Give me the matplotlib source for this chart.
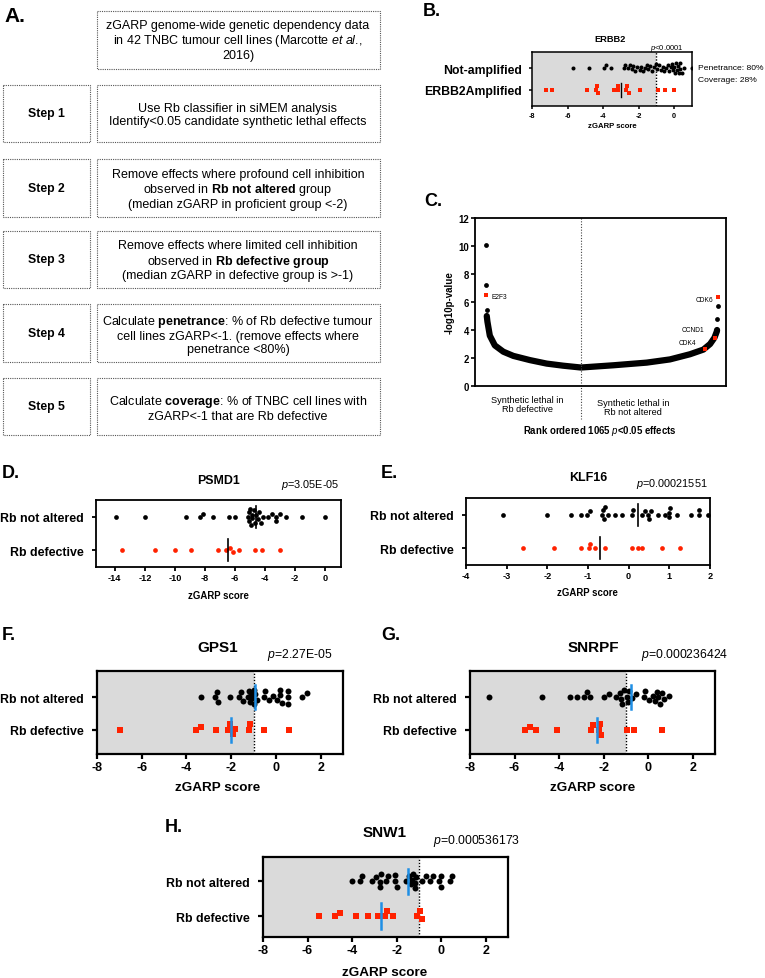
import numpy as np
import matplotlib
matplotlib.use("Agg")
import matplotlib.pyplot as plt
from matplotlib.patches import Rectangle

W, H = 765, 979

plt.rcParams["font.family"] = ["Liberation Sans", "DejaVu Sans"]
plt.rcParams["mathtext.fontset"] = "custom"
plt.rcParams["mathtext.rm"] = "Liberation Sans"
plt.rcParams["mathtext.it"] = "Liberation Sans:italic"
plt.rcParams["mathtext.bf"] = "Liberation Sans:bold"

RED = "#ff2200"
BLUE = "#1f8fe5"
GREY = "#dadada"

# ---- A: workflow
intro_text = ("zGARP genome-wide genetic dependency data\n"
              "in 42 TNBC tumour cell lines (Marcotte $\\it{et\\ al}$.,\n2016)")
step_names = ["Step 1", "Step 2", "Step 3", "Step 4", "Step 5"]
step_texts = [
    "Use Rb classifier in siMEM analysis\nIdentify<0.05 candidate synthetic lethal effects",
    "Remove effects where profound cell inhibition\nobserved in $\\bf{Rb\\ not\\ altered}$ group\n"
    "(median zGARP in proficient group <-2)",
    "Remove effects where limited cell inhibition\nobserved in $\\bf{Rb\\ defective\\ group}$\n"
    "(median zGARP in defective group is >-1)",
    "Calculate $\\bf{penetrance}$: % of Rb defective tumour\ncell lines zGARP<-1. (remove effects where\n"
    "penetrance <80%)",
    "Calculate $\\bf{coverage}$: % of TNBC cell lines with\nzGARP<-1 that are Rb defective",
]

# ---- B: ERBB2
erbb2_not_amp = [-5.70, -4.78, -3.97, -3.82, -3.56, -2.85, -2.75, -2.6, -2.5, -2.4, -2.3,
                 -2.2, -2.1, -1.95, -1.85, -1.75, -1.65, -1.55, -1.45, -1.35, -1.25, -1.15,
                 -1.05, -0.95, -0.85, -0.75, -0.65, -0.55, -0.45, -0.35, -0.3, -0.2, -0.1,
                 -0.05, 0.0, 0.05, 0.1, 0.15, 0.2, 0.25, 0.3, 0.35, 0.45, 0.55, 0.99]
erbb2_amp = [-7.21, -6.88, -4.91, -4.39, -4.35, -4.29, -3.41, -3.19, -3.19, -2.70, -2.63,
             -2.57, -1.95, -0.94, -0.51, 0.0]
erbb2_amp_median = -2.98

# ---- C: ranked effects
c_curve_rank = [5, 8, 19, 42, 81, 127, 203, 280, 356, 437, 586, 739, 846, 938, 999, 1030, 1050, 1061, 1062]
c_curve_logp = [5.0, 4.6, 3.6, 2.9, 2.45, 2.15, 1.85, 1.6, 1.45, 1.32, 1.48, 1.67, 1.9, 2.27, 2.6, 3.0, 3.45, 3.9, 4.0]
c_single_rank = [1, 2, 4, 1063, 1064]
c_single_logp = [10.1, 7.2, 5.4, 4.8, 5.7]
c_genes = ["E2F3", "CDK6", "CCND1", "CDK4"]
c_gene_rank = [3, 1065, 1053, 1007]
c_gene_logp = [6.5, 6.35, 3.42, 2.63]

# ---- D: PSMD1
psmd1_not = [-13.95, -11.98, -9.27, -8.32, -8.10, -7.48, -6.39, -6.01, -5.15, -5.1, -5.05,
             -5.0, -4.95, -4.9, -4.85, -4.75, -4.7, -4.6, -4.5, -4.4, -4.3, -4.15, -3.8,
             -3.55, -3.3, -3.3, -3.04, -2.6, -1.55, 0.0]
psmd1_def = [-13.51, -11.32, -10.0, -8.94, -7.14, -6.63, -6.35, -6.15, -5.72, -4.70, -4.22, -3.04]
psmd1_med = [-4.6, -6.48]

# ---- E: KLF16
klf16_not = [-3.10, -2.02, -1.42, -1.16, -1.02, -0.95, -0.66, -0.63, -0.61, -0.57, -0.50,
             -0.34, -0.16, 0.07, 0.11, 0.34, 0.40, 0.51, 0.47, 0.54, 0.73, 0.90, 1.0, 1.0,
             1.02, 1.18, 1.53, 1.73, 1.73, 1.96]
klf16_def = [-2.61, -1.83, -1.17, -0.97, -0.94, -0.84, -0.57, 0.07, 0.22, 0.34, 0.82, 1.26]
klf16_med = [0.22, -0.71]

# ---- F: GPS1
gps1_not = [-3.37, -2.57, -2.72, -2.64, -2.07, -1.64, -1.56, -1.47, -1.26, -1.22, -1.14,
            -1.11, -1.05, -1.0, -0.96, -0.92, -0.84, -0.54, -0.47, -0.32, -0.13, 0.05, 0.17,
            0.20, 0.28, 0.53, 0.53, 0.53, 1.18, 1.37]
gps1_def = [-6.98, -3.57, -3.34, -2.67, -2.13, -2.07, -1.94, -1.82, -1.22, -1.17, -0.52, 0.59]
gps1_med = [-0.92, -2.01]

# ---- G: SNRPF
snrpf_not = [-7.13, -4.75, -3.51, -3.21, -2.87, -2.76, -2.61, -1.97, -1.76, -1.46, -1.26,
             -1.2, -1.16, -1.07, -0.96, -0.9, -0.84, -0.74, -0.56, -0.17, -0.14, 0.04, 0.20,
             0.31, 0.38, 0.46, 0.53, 0.64, 0.71, 0.95]
snrpf_def = [-5.53, -5.32, -5.05, -4.08, -2.58, -2.46, -2.21, -2.16, -2.10, -0.93, -0.63, 0.62]
snrpf_med = [-0.78, -2.31]

# ---- H: SNW1
snw1_not = [-3.99, -3.66, -3.54, -3.09, -2.91, -2.76, -2.73, -2.72, -2.46, -2.39, -2.06,
            -2.06, -1.98, -1.56, -1.44, -1.34, -1.3, -1.26, -1.19, -1.16, -1.11, -0.84,
            -0.69, -0.51, -0.37, -0.10, -0.02, -0.02, 0.38, 0.50]
snw1_def = [-5.5, -4.75, -4.53, -3.81, -3.28, -2.84, -2.52, -2.42, -2.16, -1.07, -0.93, -0.84]
snw1_med = [-1.47, -2.69]

rb_labels = ["Rb not altered", "Rb defective"]

fig = plt.figure(figsize=(W / 100, H / 100), dpi=100)
fig.patch.set_facecolor("white")


def add_ax(x0, y0, x1, y1):
    return fig.add_axes([x0 / W, 1 - y1 / H, (x1 - x0) / W, (y1 - y0) / H])


def ftext(x, y, s, **kw):
    kw.setdefault("va", "center")
    fig.text(x / W, 1 - y / H, s, **kw)


def swarm_offsets(vals, scale, d, maxoff):
    # beeswarm layout in pixel units, vertical spread capped at maxoff
    xs = np.asarray(vals, float) * scale
    offs = np.zeros(len(xs))
    placed = []
    for i in np.argsort(xs, kind="stable"):
        x = xs[i]
        cands = [0.0]
        for a, b in placed:
            dx = x - a
            if abs(dx) < d:
                dy = np.sqrt(d * d - dx * dx)
                cands += [b + dy, b - dy]
        cands = sorted((c for c in cands if abs(c) <= maxoff + 1e-9), key=abs)
        chosen = None
        for c in cands:
            if all((x - a) ** 2 + (c - b) ** 2 >= d * d - 1e-6 for a, b in placed):
                chosen = c
                break
        if chosen is None:
            grid = np.linspace(-maxoff, maxoff, 11)
            chosen = max(grid, key=lambda c: min((x - a) ** 2 + (c - b) ** 2 for a, b in placed))
        offs[i] = chosen
        placed.append((x, chosen))
    return offs


# ---------------- panel A
ax_a = fig.add_axes([0, 0, 1, 1])
ax_a.set_xlim(0, W)
ax_a.set_ylim(H, 0)
ax_a.axis("off")
box_style = dict(fill=False, ec="#555555", lw=0.8, ls=(0, (1, 1)))
ax_a.add_patch(Rectangle((97, 12), 283, 58, **box_style))
ax_a.text(238, 41, intro_text, ha="center", va="center", fontsize=9.0, linespacing=1.1)
step_y = [(86, 143), (160, 218), (232, 289), (305, 363), (379, 436)]
for name, txt, (y0, y1) in zip(step_names, step_texts, step_y):
    ax_a.add_patch(Rectangle((3, y0), 87, y1 - y0, **box_style))
    ax_a.add_patch(Rectangle((97, y0), 283, y1 - y0, **box_style))
    ax_a.text(46, (y0 + y1) / 2, name, ha="center", va="center", fontsize=8.8, fontweight="bold")
    ax_a.text(238, (y0 + y1) / 2 + 1, txt, ha="center", va="center", fontsize=9.0, linespacing=1.1)


# ---------------- strip plots
def strip_panel(box, xlim, ylim, xticks, groups, labels, style):
    x0, y0, x1, y1 = box
    ax = add_ax(*box)
    sx = (x1 - x0) / (xlim[1] - xlim[0])
    sy = (y1 - y0) / (ylim[1] - ylim[0])
    if style["shade"]:
        ax.axvspan(xlim[0], -1, color=GREY, lw=0, zorder=0)
        ax.axvline(-1, ls=(0, (1, 1.2)), color="k", lw=1.0, zorder=1)
    for vals, row, color, marker, med in groups:
        off = swarm_offsets(vals, sx, style["d"], style["maxoff"])
        ax.scatter(vals, row + off / sy, s=style["ms"] ** 2, marker=marker, color=color,
                   lw=0, zorder=3)
        if med is not None:
            ax.plot([med, med], [row - style["mh"], row + style["mh"]],
                    color=style["mc"], lw=style["mlw"], zorder=4)
    ax.set_xlim(*xlim)
    ax.set_ylim(*ylim)
    ax.set_xticks(xticks)
    ax.set_xticklabels([f"{t:g}" for t in xticks], fontsize=style["tfs"], fontweight="bold")
    ax.set_yticks([1, 0])
    ax.set_yticklabels(labels, fontsize=style["lfs"], fontweight="bold")
    ax.tick_params(axis="x", length=style["tl"], width=style["lw"], pad=1.5)
    ax.tick_params(axis="y", length=style["tl"], width=style["lw"], pad=style["ypad"])
    for sp in ax.spines.values():
        sp.set_linewidth(style["lw"])
    ax.set_facecolor("white")
    return ax


small = dict(shade=False, d=4.6, maxoff=8, ms=3.4, mh=0.33, mc="k", mlw=1.2, tfs=6.6,
             lfs=8.9, tl=3, lw=1.3, ypad=6)
big = dict(shade=True, d=5.8, maxoff=7, ms=4.3, mh=0.36, mc=BLUE, mlw=1.8, tfs=9,
           lfs=8.9, tl=3.5, lw=1.6, ypad=6)

# B
bstyle = dict(shade=True, d=3.8, maxoff=5, ms=2.9, mh=0.34, mc="k", mlw=1.0, tfs=5.2,
              lfs=8.8, tl=2.5, lw=1.1, ypad=4.5)
strip_panel((532, 53, 692, 107), (-8, 1), (-0.73, 1.73), [-8, -6, -4, -2, 0],
            [(erbb2_not_amp, 1, "k", "o", None), (erbb2_amp, 0, RED, "s", erbb2_amp_median)],
            ["Not-amplified", "ERBB2Amplified"], bstyle)
ftext(610, 39, "ERBB2", ha="center", fontsize=6.7, fontweight="bold")
ftext(667, 48, "$p$<0.0001", ha="center", fontsize=5.5)
ftext(612, 127, "zGARP score", ha="center", fontsize=5.6, fontweight="bold")
ftext(698, 69, "Penetrance: 80%", ha="left", fontsize=6.1)
ftext(698, 80, "Coverage: 28%", ha="left", fontsize=6.1)

# C
ax_c = add_ax(475, 219, 726, 387)
ax_c.plot(c_curve_rank, c_curve_logp, color="k", lw=4.5, solid_capstyle="round", zorder=2)
ax_c.scatter(c_single_rank, c_single_logp, s=12, color="k", lw=0, zorder=3)
ax_c.scatter(c_gene_rank, c_gene_logp, s=11, marker="s", color=RED, lw=0, zorder=4)
ax_c.set_xlim(-49, 1103)
ax_c.set_ylim(0, 12)
ax_c.set_xticks([])
ax_c.set_yticks(range(0, 13, 2))
ax_c.set_yticklabels([str(v) for v in range(0, 13, 2)], fontsize=6.9, fontweight="bold")
ax_c.tick_params(axis="y", length=3, width=1.2, pad=1.5)
for sp in ax_c.spines.values():
    sp.set_linewidth(1.3)
ax_c.plot([437, 437], [12, -2.36], ls=(0, (1, 1.5)), color="#444444", lw=0.8, clip_on=False)
ax_c.annotate(c_genes[0], (c_gene_rank[0], c_gene_logp[0]), xytext=(4, -1),
              textcoords="offset points", fontsize=4.8, va="center", ha="left")
ax_c.annotate(c_genes[1], (c_gene_rank[1], c_gene_logp[1]), xytext=(-3, -2),
              textcoords="offset points", fontsize=4.8, va="center", ha="right")
ax_c.annotate(c_genes[2], (c_gene_rank[2], c_gene_logp[2]), xytext=(-8, 6),
              textcoords="offset points", fontsize=4.8, va="center", ha="right")
ax_c.annotate(c_genes[3], (c_gene_rank[3], c_gene_logp[3]), xytext=(-6, 5),
              textcoords="offset points", fontsize=4.8, va="center", ha="right")
ftext(527, 405, "Synthetic lethal in\nRb defective", ha="center", fontsize=6.6, linespacing=1.1)
ftext(633, 408, "Synthetic lethal in\nRb not altered", ha="center", fontsize=6.6, linespacing=1.1)
ftext(600, 431, "Rank ordered 1065 $p$<0.05 effects", ha="center", fontsize=6.9, fontweight="bold")
ftext(450, 303, "-log10p-value", ha="center", rotation=90, fontsize=7, fontweight="bold")

# D
strip_panel((96, 501, 341, 568), (-15.25, 1.05), (-0.5, 1.5), list(range(-14, 1, 2)),
            [(psmd1_not, 1, "k", "o", psmd1_med[0]), (psmd1_def, 0, RED, "o", psmd1_med[1])],
            rb_labels, small)
ftext(218, 481, "PSMD1", ha="center", fontsize=8.9, fontweight="bold")
ftext(339, 485, "$p$=3.05E-05", ha="right", fontsize=7.8)
ftext(218, 596, "zGARP score", ha="center", fontsize=6.9, fontweight="bold")

# E
strip_panel((466, 499, 710, 566), (-4, 2), (-0.5, 1.5), list(range(-4, 3)),
            [(klf16_not, 1, "k", "o", klf16_med[0]), (klf16_def, 0, RED, "o", klf16_med[1])],
            rb_labels, small)
ftext(588, 478, "KLF16", ha="center", fontsize=9, fontweight="bold")
ftext(708, 484, "$p$=0.00021551", ha="right", fontsize=7.8)
ftext(587, 593, "zGARP score", ha="center", fontsize=6.9, fontweight="bold")

# F, G
for box, title, ptxt, nv, dv, med, tx, px in [
    ((97, 672, 343, 755), "GPS1", "$p$=2.27E-05", gps1_not, gps1_def, gps1_med, 218, 332),
    ((470, 672, 715, 755), "SNRPF", "$p$=0.000236424", snrpf_not, snrpf_def, snrpf_med, 593, 728),
]:
    strip_panel(box, (-8, 3), (-0.73, 1.79), [-8, -6, -4, -2, 0, 2],
                [(nv, 1, "k", "o", med[0]), (dv, 0, RED, "s", med[1])], rb_labels, big)
    ftext(tx, 648, title, ha="center", fontsize=11, fontweight="bold")
    ftext(px, 655, ptxt, ha="right", fontsize=8.8)
    ftext(tx, 788, "zGARP score", ha="center", fontsize=9.7, fontweight="bold")

# H
strip_panel((263, 858, 508, 938), (-8, 3), (-0.6, 1.69), [-8, -6, -4, -2, 0, 2],
            [(snw1_not, 1, "k", "o", snw1_med[0]), (snw1_def, 0, RED, "s", snw1_med[1])],
            rb_labels, big)
ftext(385, 833, "SNW1", ha="center", fontsize=11, fontweight="bold")
ftext(520, 841, "$p$=0.000536173", ha="right", fontsize=8.8)
ftext(385, 973, "zGARP score", ha="center", fontsize=9.7, fontweight="bold")

# panel letters
ftext(4, 16, "A.", fontsize=15, fontweight="bold")
for lab, x, y in [("B.", 423, 11), ("C.", 424, 202), ("D.", 2, 473), ("E.", 381, 473),
                  ("F.", 2, 636), ("G.", 381, 636), ("H.", 165, 828)]:
    ftext(x, y, lab, fontsize=13, fontweight="bold")

fig.savefig("out.png", dpi=100)
